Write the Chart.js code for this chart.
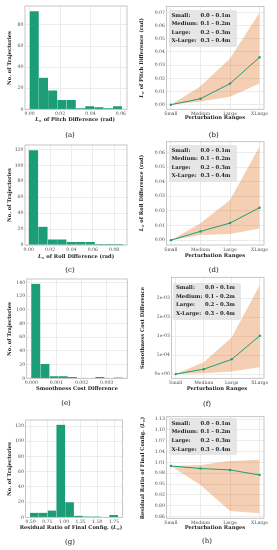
<!DOCTYPE html>
<html><head><meta charset="utf-8">
<script src="https://cdn.jsdelivr.net/npm/chart.js@4.4.0/dist/chart.umd.min.js"></script>
<style>
html,body{margin:0;padding:0;background:#fff;}
#root{position:relative;width:277px;height:550px;overflow:hidden;font-family:"DejaVu Serif",serif;}
canvas{position:absolute;}
.t{position:absolute;white-space:nowrap;color:#222;font-weight:bold;font-size:5.2px;line-height:1;}
.yt{transform:translate(-50%,-50%) rotate(-90deg);}
.xt{transform:translate(-50%,-50%);}
.t sub{font-size:0.7em;vertical-align:-0.3em;line-height:0;}
.cap{position:absolute;transform:translate(-50%,-50%);font-size:7px;color:#111;white-space:nowrap;line-height:1;}
.leg{position:absolute;background:rgba(226,226,226,0.88);border-radius:2px;font-weight:bold;font-size:5.3px;color:#222;}
.leg div{position:absolute;white-space:nowrap;line-height:1;}
</style></head><body><div id="root"></div>
<script>
// ---------------- data ----------------
const pitchCounts = [93, 30, 18, 9, 9, 1, 3, 2, 1, 3];
const pitchRange = [0, 0.0608];
const pitchXTicks = [0, 0.02, 0.04, 0.06];
const pitchXLabels = ['0.00', '0.02', '0.04', '0.06'];
const pitchYTicks = [0, 20, 40, 60, 80];

const rollCounts = [119, 23, 7, 7, 4, 4, 4, 1, 1, 1];
const rollRange = [0, 0.0885];
const rollXTicks = [0, 0.02, 0.04, 0.06, 0.08];
const rollXLabels = ['0.00', '0.02', '0.04', '0.06', '0.08'];
const rollYTicks = [0, 20, 40, 60, 80, 100, 120];

const smoothCounts = [138, 21, 3, 3, 2, 0, 0, 2, 0, 1];
const smoothRange = [0, 0.00364];
const smoothXTicks = [0, 0.001, 0.002, 0.003];
const smoothXLabels = ['0.000', '0.001', '0.002', '0.003'];
const smoothYTicks = [0, 20, 40, 60, 80, 100, 120, 140];

const residCounts = [6, 6, 9, 122, 20, 2, 1, 1, 0, 3];
const residRange = [0.49, 1.81];
const residXTicks = [0.5, 0.75, 1.0, 1.25, 1.5, 1.75];
const residXLabels = ['0.50', '0.75', '1.00', '1.25', '1.50', '1.75'];
const residYTicks = [0, 20, 40, 60, 80, 100, 120];

const categories = ['Small', 'Medium', 'Large', 'XLarge'];

const pitchMean  = [0, 0.0045, 0.016, 0.036];
const pitchUpper = [0, 0.014, 0.035, 0.070];
const pitchLower = [0, 0.0025, 0.006, 0.016];
const pitchLineTicks = [0, 0.01, 0.02, 0.03, 0.04, 0.05, 0.06, 0.07];
const pitchLineLabels = ['0.00', '0.01', '0.02', '0.03', '0.04', '0.05', '0.06', '0.07'];

const rollMean  = [0, 0.006, 0.0117, 0.0222];
const rollUpper = [0, 0.0115, 0.0275, 0.064];
const rollLower = [0, 0.0035, 0.0042, 0.008];
const rollLineTicks = [0, 0.01, 0.02, 0.03, 0.04, 0.05, 0.06];
const rollLineLabels = ['0.00', '0.01', '0.02', '0.03', '0.04', '0.05', '0.06'];

const smoothMean  = [0, 0.00013, 0.00039, 0.00101];
const smoothUpper = [0, 0.00031, 0.00097, 0.00235];
const smoothLower = [0, 0.00002, 0.00007, 0.00018];
const smoothLineTicks = [0, 0.0005, 0.001, 0.0015, 0.002];
const smoothLineLabels = ['0e+00', '5e-04', '1e-03', '2e-03', '2e-03'];

const residMean  = [1.0, 0.993, 0.989, 0.975];
const residUpper = [1.0, 1.003, 1.014, 1.017];
const residLower = [1.0, 0.947, 0.875, 0.869];
const residLineTicks = [0.86, 0.89, 0.92, 0.95, 0.98, 1.01, 1.04, 1.07, 1.10, 1.13];
const residLineLabels = ['0.86', '0.89', '0.92', '0.95', '0.98', '1.01', '1.04', '1.07', '1.10', '1.13'];

const legendLabels = ['Small:', 'Medium:', 'Large:', 'X-Large:'];
const legendRanges = ['0.0 - 0.1m', '0.1 - 0.2m', '0.2 - 0.3m', '0.3 - 0.4m'];

// ---------------- styling ----------------
const GREEN = '#1b9e77';
const BAND = 'rgba(217,95,2,0.30)';
const GRID = '#e4e4e4';
const TICKFONT = {family: 'DejaVu Serif', size: 4.6};
const TICKCOLOR = '#4a4a4a';
const root = document.getElementById('root');

const frame = {id: 'frame', afterDatasetsDraw(c) {
  const a = c.chartArea, x = c.ctx;
  x.save(); x.strokeStyle = '#b8b8b8'; x.lineWidth = 0.8;
  x.strokeRect(a.left, a.top, a.right - a.left, a.bottom - a.top); x.restore();
}};

function mkCanvas(box) {
  const cv = document.createElement('canvas');
  cv.width = box[2]; cv.height = box[3];
  cv.style.left = box[0] + 'px'; cv.style.top = box[1] + 'px';
  cv.style.width = box[2] + 'px'; cv.style.height = box[3] + 'px';
  root.appendChild(cv);
  return cv;
}

function axes(box, plot, xs, ys) {
  const [cx, cy, cw, ch] = box, [L, T, R, B] = plot;
  return {
    x: {type: 'linear', min: xs.min, max: xs.max, offset: false,
      afterBuildTicks: s => { s.ticks = xs.ticks.map(v => ({value: v})); },
      afterFit: s => { s.height = cy + ch - B; },
      ticks: {callback: (v, i) => xs.labels[i], font: TICKFONT, color: TICKCOLOR, padding: 1.6, maxRotation: 0, autoSkip: false},
      grid: {color: GRID, lineWidth: 0.7, drawTicks: false, offset: false},
      border: {display: false}},
    y: {type: 'linear', min: ys.min, max: ys.max,
      afterBuildTicks: s => { s.ticks = ys.ticks.map(v => ({value: v})); },
      afterFit: s => { s.width = L - cx; },
      ticks: {callback: (v, i) => ys.labels[i], font: TICKFONT, color: TICKCOLOR, padding: 1.6, autoSkip: false},
      grid: {color: GRID, lineWidth: 0.7, drawTicks: false},
      border: {display: false}}
  };
}

function baseOpts(box, plot) {
  const [cx, cy, cw, ch] = box, [L, T, R, B] = plot;
  return {responsive: false, animation: false, events: [], devicePixelRatio: 1,
    layout: {padding: {top: T - cy, right: cx + cw - R, left: 0, bottom: 0}},
    plugins: {legend: {display: false}, tooltip: {enabled: false}}};
}

function hist(box, plot, counts, range, xs, yMax, yTicks) {
  const w = (range[1] - range[0]) / counts.length;
  const opts = baseOpts(box, plot);
  opts.scales = axes(box, plot, xs, {min: 0, max: yMax, ticks: yTicks, labels: yTicks.map(String)});
  new Chart(mkCanvas(box), {
    type: 'bar',
    data: {datasets: [{data: counts.map((c, i) => ({x: range[0] + (i + 0.5) * w, y: c})),
      backgroundColor: GREEN, borderColor: 'rgba(255,255,255,0.25)', borderWidth: 0.4,
      barPercentage: 1, categoryPercentage: 1}]},
    options: opts, plugins: [frame]
  });
}

function band(box, plot, mean, upper, lower, ys) {
  const opts = baseOpts(box, plot);
  opts.scales = axes(box, plot, {min: -0.15, max: 3.15, ticks: [0, 1, 2, 3], labels: categories}, ys);
  const pts = arr => arr.map((v, i) => ({x: i, y: v}));
  new Chart(mkCanvas(box), {
    type: 'line',
    data: {datasets: [
      {data: pts(mean), borderColor: GREEN, borderWidth: 1, pointRadius: 1.2, pointBackgroundColor: GREEN,
       pointBorderWidth: 0, fill: false, tension: 0},
      {data: pts(upper), borderColor: 'transparent', borderWidth: 0, pointRadius: 0, fill: '+1', backgroundColor: BAND, tension: 0},
      {data: pts(lower), borderColor: 'transparent', borderWidth: 0, pointRadius: 0, fill: false, tension: 0}
    ]},
    options: opts, plugins: [frame]
  });
}

function text(cls, html, x, y, extra) {
  const d = document.createElement('div');
  d.className = cls; d.innerHTML = html;
  d.style.left = x + 'px'; d.style.top = y + 'px';
  if (extra) Object.assign(d.style, extra);
  root.appendChild(d);
}

function legend(x, y) {
  const d = document.createElement('div');
  d.className = 'leg';
  Object.assign(d.style, {left: x + 'px', top: y + 'px', width: '68px', height: '37px'});
  legendLabels.forEach((lab, i) => {
    const a = document.createElement('div'); a.textContent = lab;
    a.style.left = '3px'; a.style.top = (2.6 + i * 8.6) + 'px'; d.appendChild(a);
    const b = document.createElement('div'); b.textContent = legendRanges[i];
    b.style.left = '32px'; b.style.top = (2.6 + i * 8.6) + 'px'; d.appendChild(b);
  });
  root.appendChild(d);
}

const LINF = '<i>L</i><sub>∞</sub>';

// ---------------- left column: histograms ----------------
hist([0, 0, 137, 135], [25, 6, 127, 109.3], pitchCounts, pitchRange,
  {min: -0.003, max: 0.064, ticks: pitchXTicks, labels: pitchXLabels}, 98, pitchYTicks);
hist([0, 135, 137, 135], [25, 145, 127, 245], rollCounts, rollRange,
  {min: -0.0035, max: 0.092, ticks: rollXTicks, labels: rollXLabels}, 125.5, rollYTicks);
hist([0, 270, 137, 135], [26.7, 279, 127.3, 378.3], smoothCounts, smoothRange,
  {min: -0.00018, max: 0.00382, ticks: smoothXTicks, labels: smoothXLabels}, 145, smoothYTicks);
hist([0, 405, 137, 145], [25.5, 420, 122.5, 517.3], residCounts, residRange,
  {min: 0.424, max: 1.876, ticks: residXTicks, labels: residXLabels}, 128, residYTicks);

// ---------------- right column: bands ----------------
band([137, 0, 140, 135], [166.5, 6.5, 264, 109.3], pitchMean, pitchUpper, pitchLower,
  {min: -0.0035, max: 0.0745, ticks: pitchLineTicks, labels: pitchLineLabels});
band([137, 135, 140, 135], [166.5, 141.7, 264, 245], rollMean, rollUpper, rollLower,
  {min: -0.0033, max: 0.0673, ticks: rollLineTicks, labels: rollLineLabels});
band([137, 270, 140, 135], [171.5, 277.3, 264, 378.3], smoothMean, smoothUpper, smoothLower,
  {min: -0.00011, max: 0.00255, ticks: smoothLineTicks, labels: smoothLineLabels});
band([137, 405, 140, 145], [166.5, 416.7, 264, 518.3], residMean, residUpper, residLower,
  {min: 0.855, max: 1.1365, ticks: residLineTicks, labels: residLineLabels});

// legends
legend(168.5, 10);
legend(168.5, 145);
legend(173, 282.7);
legend(168.5, 418.3);

// axis titles
text('t yt', 'No. of Trajectories', 10, 57.5);
text('t xt', LINF + ' of Pitch Difference (rad)', 75, 120);
text('t yt', 'No. of Trajectories', 10, 195);
text('t xt', LINF + ' of Roll Difference (rad)', 76, 256.7);
text('t yt', 'No. of Trajectories', 9.5, 328.5);
text('t xt', 'Smoothness Cost Difference', 77, 389.3);
text('t yt', 'No. of Trajectories', 10, 468.5);
text('t xt', 'Residual Ratio of Final Config. (' + LINF + ')', 71, 527.7);

text('t yt', LINF + ' of Pitch Difference (rad)', 142, 57.5);
text('t xt', 'Perturbation Ranges', 215, 118.3);
text('t yt', LINF + ' of Roll Difference (rad)', 142, 193);
text('t xt', 'Perturbation Ranges', 215, 255.7);
text('t yt', 'Smoothness Cost Difference', 143, 328);
text('t xt', 'Perturbation Ranges', 217, 389);
text('t yt', 'Residual Ratio of Final Config. (' + LINF + ')', 143, 467.5);
text('t xt', 'Perturbation Ranges', 215, 527.7);

// captions
text('cap', '(a)', 70, 135);
text('cap', '(b)', 213.7, 135);
text('cap', '(c)', 70, 270);
text('cap', '(d)', 213.7, 270);
text('cap', '(e)', 66, 403.3);
text('cap', '(f)', 207, 404.3);
text('cap', '(g)', 70, 541.7);
text('cap', '(h)', 207, 541);
</script></body></html>
